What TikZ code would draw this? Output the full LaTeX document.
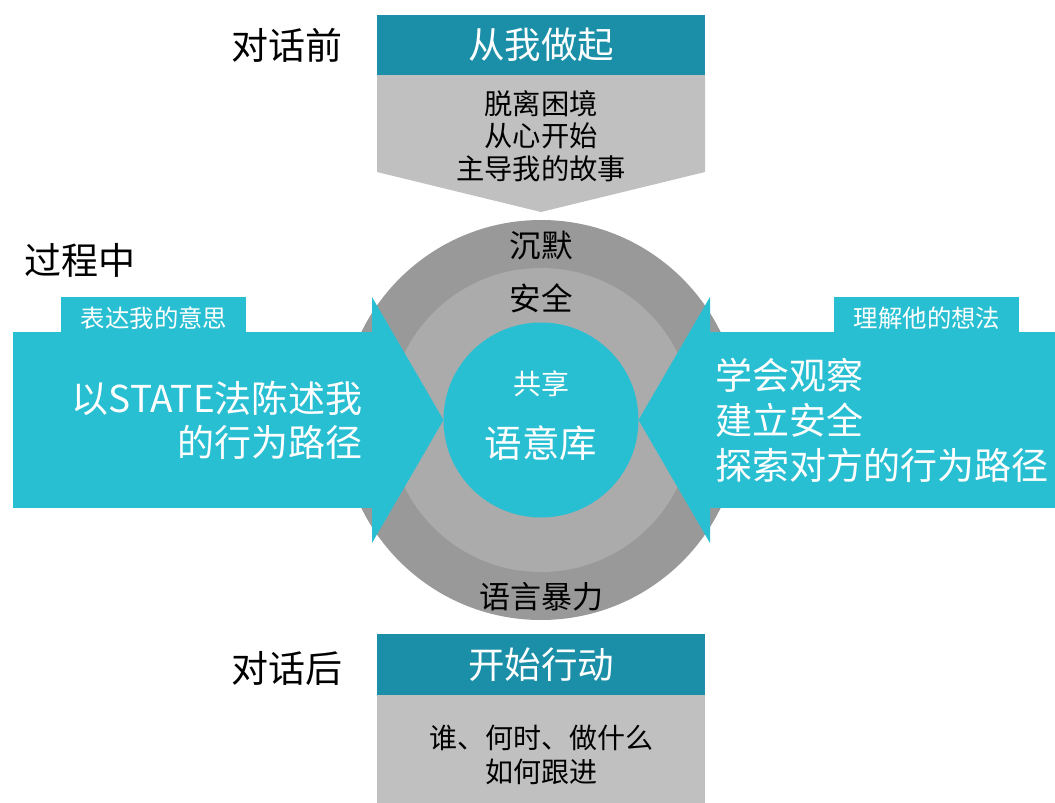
\documentclass[tikz,border=0pt]{standalone}
\usepackage{fontspec}
\setmainfont{Noto Sans CJK SC}
\definecolor{tealL}{HTML}{29BFD2}
\definecolor{tealD}{HTML}{1C8FA8}
\definecolor{boxgray}{HTML}{C0C0C0}
\definecolor{ringout}{HTML}{999999}
\definecolor{ringmid}{HTML}{ABABAB}
\tikzset{
  txt/.style={inner sep=0pt, text=black},
  wtxt/.style={inner sep=0pt, text=white},
  fs/.style={font=\fontsize{#1}{#1}\selectfont},
}
\begin{document}
\begin{tikzpicture}[x=1pt,y=-1pt]
\useasboundingbox (0,0) rectangle (1055,803);
% circles
\fill[ringout] (541,420) circle (200);
\fill[ringmid] (541,420) circle (152);
\fill[tealL] (541,420) circle (97.5);
% top box
\fill[boxgray] (377,75) -- (705,75) -- (705,172) -- (541,212) -- (377,172) -- cycle;
\fill[tealD] (377,15) rectangle (705,75);
% bottom box
\fill[boxgray] (377,695) rectangle (705,803);
\fill[tealD] (377,634) rectangle (705,695);
% left arrow
\fill[tealL] (13,332) rectangle (373,508);
\fill[tealL] (372,297) -- (443.5,420) -- (372,543) -- cycle;
\fill[tealL] (61,297) rectangle (246,333);
% right arrow
\fill[tealL] (709,332) rectangle (1055,508);
\fill[tealL] (710,297) -- (638.5,420) -- (710,543) -- cycle;
\fill[tealL] (834,297) rectangle (1019,333);
% labels
\node[txt, fs=37] (pre) at (287,45) {对话前};
\node[txt, fs=37] (mid) at (80,260) {过程中};
\node[txt, fs=37] (post) at (287,668) {对话后};
% top box texts
\node[wtxt, fs=36.5] (tophead) at (541,45) {从我做起};
\node[txt, align=center, font=\fontsize{28.3}{32.5}\selectfont] (topbody) at (541,136) {脱离困境\\从心开始\\主导我的故事};
% bottom box texts
\node[wtxt, fs=36.5] (bothead) at (541,665) {开始行动};
\node[txt, align=center, font=\fontsize{28}{34}\selectfont] (botbody) at (541,755) {谁、何时、做什么\\如何跟进};
% circle texts
\node[txt, fs=31.5] (silence) at (541,246) {沉默};
\node[txt, fs=31.5] (safety) at (541,298) {安全};
\node[wtxt, fs=28] (share) at (541,384) {共享};
\node[wtxt, fs=37.5] (pool) at (541,443) {语意库};
\node[txt, fs=31] (violence) at (541,597) {语言暴力};
% left arrow texts
\node[wtxt, fs=24.4] (ltab) at (154,318) {表达我的意思};
\node[wtxt, anchor=east, align=right, font=\fontsize{37}{44}\selectfont] (ltext) at (363,420) {以STATE法陈述我\\的行为路径};
% right arrow texts
\node[wtxt, fs=24.4] (rtab) at (927,318) {理解他的想法};
\node[wtxt, anchor=west, align=left, font=\fontsize{37}{45}\selectfont] (rtext) at (715,420) {学会观察\\建立安全\\探索对方的行为路径};
\end{tikzpicture}
\end{document}
